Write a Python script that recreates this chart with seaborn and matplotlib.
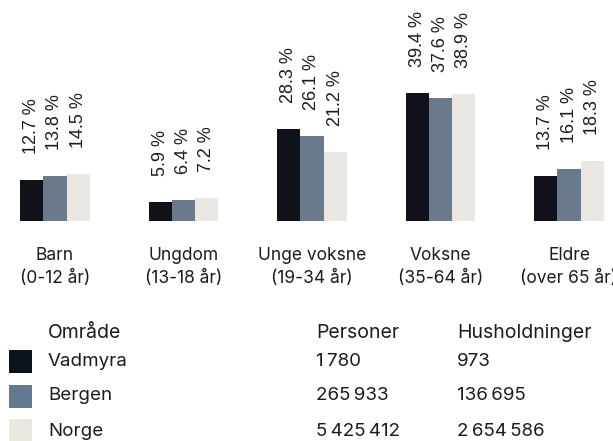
import numpy as np
import pandas as pd
import matplotlib.pyplot as plt
import matplotlib.patches as mpatches
import seaborn as sns

# Data
categories = ['Barn', 'Ungdom', 'Unge voksne', 'Voksne', 'Eldre']
age_ranges = ['(0-12 år)', '(13-18 år)', '(19-34 år)', '(35-64 år)', '(over 65 år)']
areas = ['Vadmyra', 'Bergen', 'Norge']
vadmyra = [12.7, 5.9, 28.3, 39.4, 13.7]
bergen = [13.8, 6.4, 26.1, 37.6, 16.1]
norge = [14.5, 7.2, 21.2, 38.9, 18.3]
persons = [1780, 265933, 5425412]
households = [973, 136695, 2654586]
colors = ['#0d131b', '#647991', '#ebe8e1']

sns.set_style('white')
plt.rcParams['font.family'] = ['Inter', 'DejaVu Sans']
plt.rcParams['text.color'] = '#1c1c1c'

rows = []
for area, vals in zip(areas, [vadmyra, bergen, norge]):
    for cat, v in zip(categories, vals):
        rows.append({'Kategori': cat, 'Område': area, 'Andel': v})
df = pd.DataFrame(rows)

W, H = 613, 441
base_px = 221      # baseline, pixels from top
px_per_pct = 3.26
group_step = 128.5
first_center = 55

fig = plt.figure(figsize=(W / 100, H / 100), dpi=100)
ax = fig.add_axes([0, (H - base_px) / H, 1, base_px / H])
ax.patch.set_alpha(0)

sns.barplot(data=df, x='Kategori', y='Andel', hue='Område', hue_order=areas,
            order=categories, palette=colors, width=0.537, linewidth=0,
            legend=False, ax=ax)

ax.set_xlim(-first_center / group_step, (W - first_center) / group_step)
ax.set_ylim(0, base_px / px_per_pct)

for cont in ax.containers:
    ax.bar_label(cont, fmt='{:.1f} %', rotation=90, padding=26 * 0.72,
                 fontsize=13, family='Liberation Sans', color='#1c1c1c')

ax.set_xticks(range(len(categories)))
ax.set_xticklabels([f'{c}\n{r}' for c, r in zip(categories, age_ranges)],
                   fontsize=12.5, linespacing=1.45, color='#1c1c1c')
ax.tick_params(axis='x', length=0, pad=19)
ax.set_yticks([])
ax.set_xlabel('')
ax.set_ylabel('')
sns.despine(ax=ax, left=True, bottom=True)


def fmt_num(n):
    return f'{n:,}'.replace(',', '\u2009')


def fy(y):
    return 1 - y / H


# Table-style legend
fs = 13.5
header_y = 333
row_ys = [361, 396, 431]
fig.text(48 / W, fy(header_y), 'Område', fontsize=fs + 0.5, va='center')
fig.text(316 / W, fy(header_y), 'Personer', fontsize=fs + 0.5, va='center')
fig.text(457 / W, fy(header_y), 'Husholdninger', fontsize=fs + 0.5, va='center')
for area, c, p, h, y in zip(areas, colors, persons, households, row_ys):
    fig.add_artist(mpatches.Rectangle((9 / W, fy(y + 11.5)), 23 / W, 23 / H,
                                      transform=fig.transFigure, color=c, lw=0))
    fig.text(48 / W, fy(y), area, fontsize=fs, va='center')
    fig.text(316 / W, fy(y), fmt_num(p), fontsize=fs, va='center')
    fig.text(457 / W, fy(y), fmt_num(h), fontsize=fs, va='center')

fig.savefig('out.png', dpi=100)
